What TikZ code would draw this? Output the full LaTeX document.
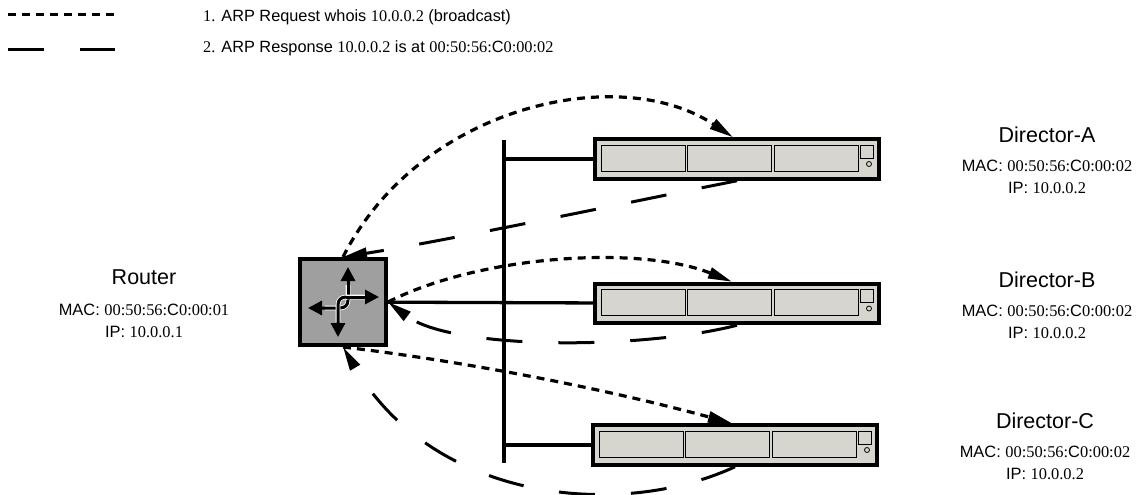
\documentclass[tikz,border=0pt]{standalone}
\usepackage{fontspec}
\setmainfont{Liberation Sans}
\newfontfamily\numfont{Liberation Serif}
\newcommand{\nm}[1]{{\numfont #1}}
\usetikzlibrary{arrows.meta,positioning}
\tikzset{
title/.style={font=\fontsize{21.5}{24}\selectfont,inner sep=0pt},
info/.style={font=\fontsize{16.4}{21.5}\selectfont,align=center,inner sep=0pt},
legendtxt/.style={font=\fontsize{16.3}{19}\selectfont,anchor=west,inner sep=0pt},
request/.style={line width=3.2pt,dash pattern=on 8pt off 6pt},
response/.style={line width=3pt,dash pattern=on 36pt off 36pt},
wire/.style={line width=3.3pt},
router/.style={draw,line width=4pt,fill=routergray,minimum size=86pt,inner sep=0pt},
director/.style={draw,line width=4pt,fill=boxgray,minimum width=284pt,minimum height=39.5pt,inner sep=0pt},
bay/.style={draw,line width=1pt,minimum width=84pt,minimum height=26pt,inner sep=0pt},
slot/.style={draw,line width=.8pt,minimum size=13pt,inner sep=0pt},
led/.style={draw,circle,line width=.8pt,minimum size=5pt,inner sep=0pt},
flow/.style={line width=3pt,-{Triangle[length=14pt,width=14pt]}},
flowhalo/.style={line width=4.6pt,white}
}
\definecolor{routergray}{HTML}{9F9F9F}
\definecolor{boxgray}{HTML}{D6D6CE}
\begin{document}
\begin{tikzpicture}[x=1pt,y=-1pt,>={Triangle[length=24pt,width=11pt]}]
\useasboundingbox (0,0) rectangle (1138,495);
% legend
\coordinate (reqa) at (8,14.5);
\coordinate (reqb) at (115,14.5);
\coordinate (resa) at (8,50);
\coordinate (resb) at (115,50);
\draw[request] (reqa)--(reqb);
\draw[response] (resa)--(resb);
\node[legendtxt] (reqtxt) at (203,17.5) {\nm{1.} ARP Request whois \nm{10.0.0.2} (broadcast)};
\node[legendtxt] (restxt) at (203,48) {\nm{2.} ARP Response \nm{10.0.0.2} is at \nm{00:50:56:}C\nm{0:00:02}};
% bus and router
\coordinate (bustop) at (504,140);
\coordinate (busbot) at (504,463);
\draw[wire] (bustop)--(busbot);
\node[router] (rt) at (343,302) {};
\node[title] (rtname) at (144,277) {Router};
\node[info,below=19.5pt of rtname] (rtinfo) {MAC: \nm{00:50:56:}C\nm{0:00:01}\\IP: \nm{10.0.0.1}};
\coordinate (rtup) at (348,267);
\coordinate (rtleft) at (308,308);
\coordinate (rtright) at (379,297);
\coordinate (rtdown) at (338,337);
\draw[flowhalo] (348,285)--(348,300) .. controls (348,305) and (345,308) .. (340,308)--(325,308);
\draw[flow] (348,300) .. controls (348,305) and (345,308) .. (340,308)--(rtleft);
\draw[flow] (348,300)--(rtup);
\draw[flowhalo] (365,297)--(346,297) .. controls (341,297) and (338,300) .. (338,305)--(338,322);
\draw[flow] (346,297)--(rtright);
\draw[flow] (346,297) .. controls (341,297) and (338,300) .. (338,305)--(rtdown);
% directors
\foreach \name/\xc/\yc/\tx/\ty in {A/737/159/1047/134.5,B/737/303.5/1047/279.5,C/735/445/1045/420.5}{
\node[director] (dir\name) at (\xc,\yc) {};
\begin{scope}[shift={(\xc,\yc)}]
\node[bay] (bay\name a) at (-94,-1) {};
\node[bay] (bay\name b) at (-7.5,-1) {};
\node[bay] (bay\name c) at (79,-1) {};
\node[slot] (slot\name) at (129.5,-7.5) {};
\node[led] (led\name) at (132,5) {};
\end{scope}
\node[title] (name\name) at (\tx,\ty) {Director-\name};
\node[info,below=17.5pt of name\name] (info\name) {MAC: \nm{00:50:56:}C\nm{0:00:02}\\IP: \nm{10.0.0.2}};
}
\draw[wire] (bustop|-dirA)--(dirA);
\draw[wire] (rt)--(dirB);
\draw[wire] (busbot|-dirC)--(dirC);
% requests
\draw[request,->] (rt.north) .. controls (420,105) and (620,62) .. ([xshift=-4pt]dirA.north);
\draw[request,->] (rt.east) .. controls (480,255) and (640,245) .. ([xshift=-5pt]dirB.north);
\draw[request,->] (rt.south) .. controls (470,362) and (610,390) .. ([xshift=-3pt]dirC.north);
% responses
\draw[response,->] (dirA.south) .. controls (630,202) and (450,240) .. (rt.north);
\draw[response,->] (dirB.south) .. controls (640,350) and (452,350) .. (rt.east);
\draw[response,->] (dirC.south) .. controls (620,520) and (434,502) .. (rt.south);
\end{tikzpicture}
\end{document}
